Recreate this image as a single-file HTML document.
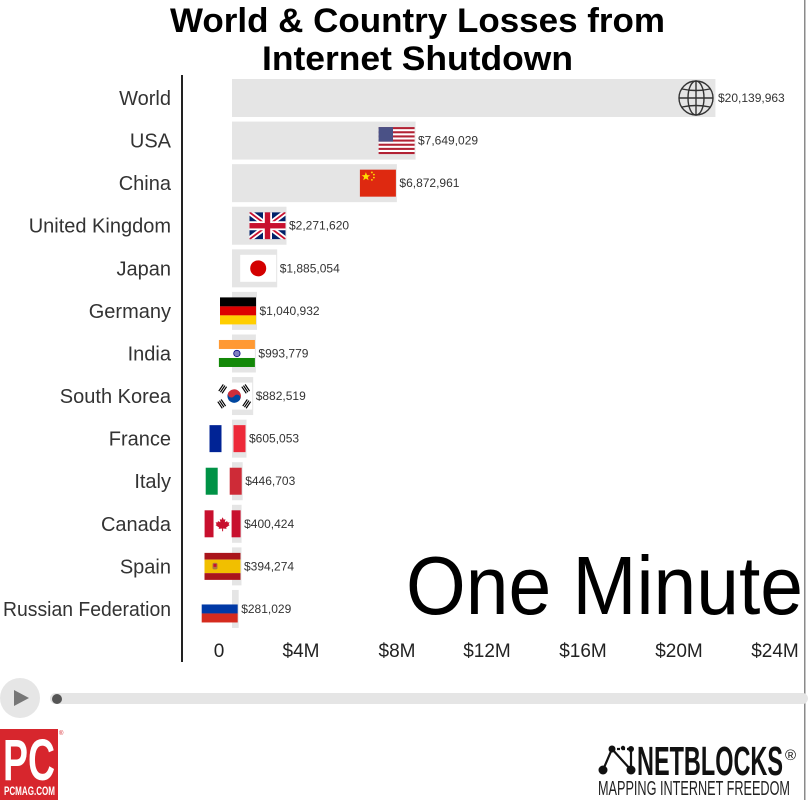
<!DOCTYPE html>
<html><head><meta charset="utf-8"><style>
html,body{margin:0;padding:0;background:#fff;}
svg{display:block;}
text{font-family:"Liberation Sans",sans-serif;}
</style></head><body>
<svg width="808" height="800" viewBox="0 0 808 800" xmlns="http://www.w3.org/2000/svg">
<rect width="808" height="800" fill="#fff"/>
<!-- right border -->
<rect x="804" y="0" width="1.5" height="800" fill="#8a8a8a"/>

<!-- Title -->
<text x="170" y="32" font-size="34" font-weight="bold" fill="#000" textLength="495" lengthAdjust="spacingAndGlyphs">World &amp; Country Losses from</text>
<text x="262" y="70" font-size="34" font-weight="bold" fill="#000" textLength="311" lengthAdjust="spacingAndGlyphs">Internet Shutdown</text>

<!-- axis line -->
<rect x="181" y="75" width="2" height="587" fill="#222"/>

<!-- Bars -->
<g fill="#e5e5e5">
<rect x="232" y="79" width="483.4" height="38"/>
<rect x="232" y="121.58" width="183.6" height="38"/>
<rect x="232" y="164.16" width="164.9" height="38"/>
<rect x="232" y="206.74" width="54.5" height="38"/>
<rect x="232" y="249.32" width="45.2" height="38"/>
<rect x="232" y="291.9" width="25" height="38"/>
<rect x="232" y="334.48" width="23.9" height="38"/>
<rect x="232" y="377.06" width="21.2" height="38"/>
<rect x="232" y="419.64" width="14.5" height="38"/>
<rect x="232" y="462.22" width="10.7" height="38"/>
<rect x="232" y="504.8" width="9.6" height="38"/>
<rect x="232" y="547.38" width="9.5" height="38"/>
<rect x="232" y="589.96" width="6.7" height="38"/>
</g>

<!-- Category labels -->
<g font-size="20" fill="#333" text-anchor="end">
<text x="171" y="105">World</text>
<text x="171" y="147.6">USA</text>
<text x="171" y="190.2">China</text>
<text x="171" y="232.7">United Kingdom</text>
<text x="171" y="275.3">Japan</text>
<text x="171" y="317.9">Germany</text>
<text x="171" y="360.5">India</text>
<text x="171" y="403.1">South Korea</text>
<text x="171" y="445.6">France</text>
<text x="171" y="488.2">Italy</text>
<text x="171" y="530.8">Canada</text>
<text x="171" y="573.4">Spain</text>
<text x="171" y="616" textLength="168" lengthAdjust="spacingAndGlyphs">Russian Federation</text>
</g>

<!-- Globe -->
<g fill="none" stroke="#333" stroke-width="1.4">
<circle cx="696" cy="98" r="17"/>
<ellipse cx="696" cy="98" rx="8" ry="17"/>
<line x1="696" y1="81" x2="696" y2="115"/>
<line x1="679" y1="98" x2="713" y2="98"/>
<path d="M682 89 Q696 92 710 89"/>
<path d="M682 107 Q696 104 710 107"/>
</g>

<!-- USA flag -->
<g transform="translate(378.6,127.08)">
<rect width="36" height="27" fill="#fff"/>
<g fill="#b22234">
<rect y="0" width="36" height="2.08"/><rect y="4.15" width="36" height="2.08"/><rect y="8.31" width="36" height="2.08"/><rect y="12.46" width="36" height="2.08"/><rect y="16.62" width="36" height="2.08"/><rect y="20.77" width="36" height="2.08"/><rect y="24.92" width="36" height="2.08"/>
</g>
<rect width="14.4" height="14.54" fill="#4a5186"/>
</g>

<!-- China flag -->
<g transform="translate(359.9,169.66)">
<rect width="36" height="27" fill="#de2910"/>
<polygon points="6,2.5 7.1,5.5 10.3,5.6 7.8,7.5 8.7,10.6 6,8.8 3.3,10.6 4.2,7.5 1.7,5.6 4.9,5.5" fill="#ffde00"/>
<circle cx="12" cy="2.8" r="0.9" fill="#ffde00"/>
<circle cx="14" cy="5" r="0.9" fill="#ffde00"/>
<circle cx="14" cy="8" r="0.9" fill="#ffde00"/>
<circle cx="12" cy="10.2" r="0.9" fill="#ffde00"/>
</g>

<!-- UK flag -->
<g transform="translate(249.5,212.24)">
<svg width="36" height="27" viewBox="0 0 36 27">
<rect width="36" height="27" fill="#012169"/>
<path d="M0 0 L36 27 M36 0 L0 27" stroke="#fff" stroke-width="5.4"/>
<path d="M0 0 L36 27 M36 0 L0 27" stroke="#c8102e" stroke-width="1.8"/>
<rect x="0" y="9" width="36" height="9" fill="#fff"/>
<rect x="13.5" y="0" width="9" height="27" fill="#fff"/>
<rect x="0" y="10.8" width="36" height="5.4" fill="#c8102e"/>
<rect x="15.3" y="0" width="5.4" height="27" fill="#c8102e"/>
</svg>
</g>

<!-- Japan flag -->
<g transform="translate(240.2,254.82)">
<rect width="36" height="27" fill="#fff"/>
<circle cx="18" cy="13.5" r="8" fill="#d30000"/>
</g>

<!-- Germany -->
<g transform="translate(220,297.4)">
<rect width="36" height="9" fill="#000"/>
<rect y="9" width="36" height="9" fill="#dd0000"/>
<rect y="18" width="36" height="9" fill="#ffce00"/>
</g>

<!-- India -->
<g transform="translate(218.9,339.98)">
<rect width="36" height="9" fill="#ff9933"/>
<rect y="9" width="36" height="9" fill="#fff"/>
<rect y="18" width="36" height="9" fill="#138808"/>
<circle cx="18" cy="13.5" r="3.2" fill="#8080c0" stroke="#000080" stroke-width="0.8"/>
</g>

<!-- South Korea -->
<g transform="translate(216.2,382.56)">
<rect width="36" height="27" fill="#fff"/>
<g transform="rotate(33.7 18 13.5)">
<path d="M11.25 13.5 A6.75 6.75 0 0 1 24.75 13.5 Z" fill="#cd2e3a"/>
<path d="M11.25 13.5 A6.75 6.75 0 0 0 24.75 13.5 Z" fill="#0047a0"/>
<circle cx="14.6" cy="13.5" r="3.375" fill="#cd2e3a"/>
<circle cx="21.4" cy="13.5" r="3.375" fill="#0047a0"/>
</g>
<g fill="#000">
<g transform="rotate(-56 6 6)"><rect x="2" y="4" width="8" height="1.2"/><rect x="2" y="6" width="8" height="1.2"/><rect x="2" y="8" width="8" height="1.2"/></g>
<g transform="rotate(56 30 6)"><rect x="26" y="4" width="8" height="1.2"/><rect x="26" y="6" width="8" height="1.2"/><rect x="26" y="8" width="8" height="1.2"/></g>
<g transform="rotate(56 6 21)"><rect x="2" y="19" width="8" height="1.2"/><rect x="2" y="21" width="8" height="1.2"/><rect x="2" y="23" width="8" height="1.2"/></g>
<g transform="rotate(-56 30 21)"><rect x="26" y="19" width="8" height="1.2"/><rect x="26" y="21" width="8" height="1.2"/><rect x="26" y="23" width="8" height="1.2"/></g>
</g>
</g>

<!-- France -->
<g transform="translate(209.5,425.14)">
<rect width="12" height="27" fill="#002395"/>
<rect x="24" width="12" height="27" fill="#ed2939"/>
</g>

<!-- Italy -->
<g transform="translate(205.7,467.72)">
<rect width="12" height="27" fill="#009246"/>
<rect x="24" width="12" height="27" fill="#ce2b37"/>
</g>

<!-- Canada -->
<g transform="translate(204.6,510.3)">
<rect width="9" height="27" fill="#c8102e"/>
<rect x="9" width="18" height="27" fill="#fff"/>
<rect x="27" width="9" height="27" fill="#c8102e"/>
<path d="M18 7 L19.2 9.5 L20.8 8.8 L20.2 12 L22.5 10.8 L23.2 12.2 L25 12 L24 14 L25 14.8 L21.5 17.2 L22 18.6 L18.5 18.2 L18.5 21 L17.5 21 L17.5 18.2 L14 18.6 L14.5 17.2 L11 14.8 L12 14 L11 12 L12.8 12.2 L13.5 10.8 L15.8 12 L15.2 8.8 L16.8 9.5 Z" fill="#c8102e"/>
</g>

<!-- Spain -->
<g transform="translate(204.5,552.88)">
<rect width="36" height="6.75" fill="#aa151b"/>
<rect y="6.75" width="36" height="13.5" fill="#f1bf00"/>
<rect y="20.25" width="36" height="6.75" fill="#aa151b"/>
<rect x="8" y="10" width="5" height="6.5" rx="1.5" fill="#ad7a40"/>
<rect x="9" y="11" width="3" height="3" fill="#c8102e"/>
</g>

<!-- Russia -->
<g transform="translate(201.7,595.46)">
<rect y="9" width="36" height="9" fill="#0039a6"/>
<rect y="18" width="36" height="9" fill="#d52b1e"/>
</g>

<!-- Value labels -->
<g font-size="12" fill="#333">
<text x="718" y="102">$20,139,963</text>
<text x="418" y="144.6">$7,649,029</text>
<text x="399.4" y="187.2">$6,872,961</text>
<text x="289" y="229.7">$2,271,620</text>
<text x="279.7" y="272.3">$1,885,054</text>
<text x="259.5" y="314.9">$1,040,932</text>
<text x="258.4" y="357.5">$993,779</text>
<text x="255.7" y="400.1">$882,519</text>
<text x="249" y="442.6">$605,053</text>
<text x="245.2" y="485.2">$446,703</text>
<text x="244.1" y="527.8">$400,424</text>
<text x="244" y="570.4">$394,274</text>
<text x="241.2" y="613">$281,029</text>
</g>

<!-- One Minute -->
<text x="406" y="614" font-size="83" fill="#000" textLength="397" lengthAdjust="spacingAndGlyphs">One Minute</text>

<!-- Tick labels -->
<g font-size="19" fill="#222" text-anchor="middle">
<text x="219" y="657">0</text>
<text x="301" y="657">$4M</text>
<text x="397" y="657">$8M</text>
<text x="487" y="657">$12M</text>
<text x="583" y="657">$16M</text>
<text x="679" y="657">$20M</text>
<text x="775" y="657">$24M</text>
</g>

<!-- Player -->
<circle cx="20" cy="698" r="20" fill="#e6e6e6"/>
<polygon points="14,690 14,706 29,698" fill="#777"/>
<rect x="50" y="693" width="758" height="11" rx="5.5" fill="#e5e5e5"/>
<circle cx="57" cy="699" r="5" fill="#555"/>

<!-- PC logo -->
<rect x="0" y="729" width="58" height="71" fill="#d7262d"/>
<text x="3" y="780" font-size="58" font-weight="bold" fill="#fff" textLength="52" lengthAdjust="spacingAndGlyphs">PC</text>
<text x="4" y="795" font-size="12" font-weight="bold" fill="#fff" textLength="51" lengthAdjust="spacingAndGlyphs">PCMAG.COM</text>
<text x="59" y="735" font-size="6" fill="#d7262d">®</text>

<!-- NetBlocks logo -->
<g stroke="#111" stroke-width="2.2" fill="none">
<line x1="603" y1="770" x2="612" y2="749"/>
<line x1="612" y1="749" x2="631" y2="770"/>
<line x1="631" y1="749" x2="631" y2="770"/>
<line x1="612" y1="749" x2="631" y2="749" stroke-dasharray="3 2"/>
</g>
<g fill="#111">
<circle cx="603" cy="770" r="4.5"/>
<circle cx="612" cy="749" r="3.5"/>
<circle cx="623" cy="748" r="2.2"/>
<circle cx="631" cy="749" r="3"/>
<circle cx="631" cy="770" r="4.5"/>
</g>
<text x="637" y="775" font-size="41" font-weight="bold" fill="#111" textLength="146" lengthAdjust="spacingAndGlyphs">NETBLOCKS</text>
<text x="785" y="760" font-size="15" fill="#111">®</text>
<text x="598" y="795" font-size="20" fill="#222" textLength="192" lengthAdjust="spacingAndGlyphs">MAPPING INTERNET FREEDOM</text>
</svg>
</body></html>
